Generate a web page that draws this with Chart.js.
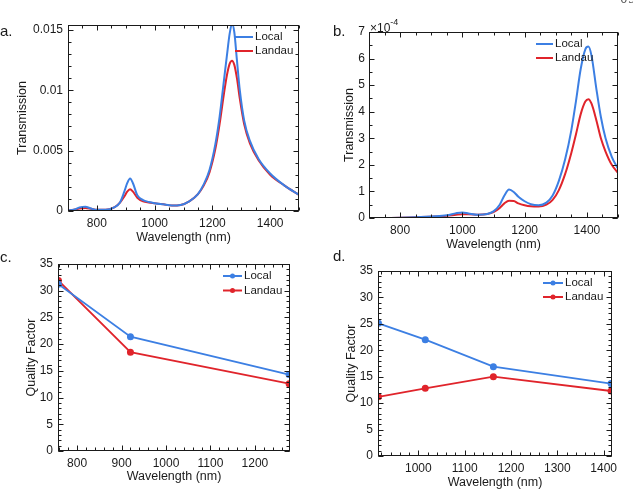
<!DOCTYPE html>
<html>
<head>
<meta charset="utf-8">
<script src="https://cdn.jsdelivr.net/npm/chart.js@4.4.0/dist/chart.umd.min.js"></script>
<style>
html, body { margin: 0; padding: 0; background: #fff; }
body { width: 633px; height: 489px; position: relative; overflow: hidden;
       font-family: "Liberation Sans", Arial, sans-serif; color: #1a1a1a; }
canvas { position: absolute; }
.tag { position: absolute; font-size: 15px; line-height: 1; }
.mult { position: absolute; font-size: 12px; line-height: 1; }
.mult sup { font-size: 9px; position: relative; top: -2px; }
.page { position: absolute; font-family: "DejaVu Serif", serif; font-size: 12px; color: #555; }
</style>
</head>
<body>
<canvas id="chartA" width="316" height="246" style="left:0;top:0"></canvas>
<canvas id="chartB" width="317" height="256" style="left:316px;top:0"></canvas>
<canvas id="chartC" width="316" height="243" style="left:0;top:246px"></canvas>
<canvas id="chartD" width="317" height="248" style="left:316px;top:246px"></canvas>

<div class="tag" style="left:0;top:23px">a.</div>
<div class="tag" style="left:333px;top:23px">b.</div>
<div class="tag" style="left:0;top:249px">c.</div>
<div class="tag" style="left:333px;top:248px">d.</div>
<div class="mult" style="left:370px;top:20px">&times;10<sup>-4</sup></div>
<div class="page" style="left:620px;top:-8px">09</div>

<script>
// ---------------- data ----------------
// a. transmission, first structure
const wlA = [700, 720, 740, 760, 780, 800, 830, 860, 880, 895, 905, 915, 925, 940, 960, 980, 1000, 1030, 1060, 1090,
  1120, 1150, 1170, 1190, 1210, 1225, 1240, 1250, 1260, 1268, 1276, 1285, 1295, 1310, 1330, 1360, 1400, 1450, 1500];
const localA = [0.00005, 0.0001, 0.0003, 0.00036, 0.0002, 0.0001, 0.0001, 0.0003, 0.0007, 0.0016, 0.0023, 0.0027, 0.0023,
  0.0013, 0.0009, 0.00075, 0.00065, 0.00055, 0.00045, 0.0005, 0.0008, 0.0014, 0.0022, 0.0034, 0.0055, 0.0078, 0.0108,
  0.0128, 0.0147, 0.0155, 0.0148, 0.0125, 0.0100, 0.0075, 0.0058, 0.0043, 0.0031, 0.0021, 0.00135];
const landauA = [0.00005, 0.0001, 0.0002, 0.00025, 0.00018, 0.0001, 0.0001, 0.0003, 0.0007, 0.0012, 0.0016, 0.0018, 0.0016,
  0.0011, 0.0008, 0.0007, 0.00064, 0.00055, 0.00045, 0.0005, 0.0008, 0.0014, 0.0021, 0.0032, 0.0051, 0.0072, 0.0097,
  0.0112, 0.0122, 0.01245, 0.0121, 0.0110, 0.0093, 0.0072, 0.0056, 0.0042, 0.0030, 0.0021, 0.00133];

// b. transmission, second structure (units of 1e-4)
const wlB = [700, 750, 800, 850, 900, 950, 980, 1000, 1020, 1050, 1080, 1100, 1120, 1135, 1150, 1165, 1180, 1200, 1220,
  1245, 1270, 1290, 1310, 1330, 1350, 1365, 1380, 1395, 1405, 1415, 1430, 1445, 1460, 1480, 1500];
const localB = [0, 0, 0.01, 0.03, 0.06, 0.1, 0.18, 0.21, 0.17, 0.12, 0.15, 0.25, 0.5, 0.85, 1.07, 0.98, 0.8, 0.63, 0.52,
  0.48, 0.58, 0.85, 1.4, 2.2, 3.3, 4.4, 5.6, 6.35, 6.45, 6.1, 4.9, 3.8, 3.0, 2.3, 1.85];
const landauB = [0, 0, 0.01, 0.03, 0.05, 0.08, 0.12, 0.14, 0.14, 0.12, 0.15, 0.22, 0.38, 0.55, 0.65, 0.64, 0.55, 0.48, 0.44,
  0.43, 0.5, 0.68, 1.05, 1.65, 2.45, 3.15, 3.9, 4.38, 4.47, 4.3, 3.7, 3.0, 2.5, 2.0, 1.7];

// c. quality factor vs resonance wavelength
const wlC = [758, 920, 1277];
const localC = [31.2, 21.4, 14.3];
const landauC = [31.9, 18.5, 12.6];

// d. quality factor vs resonance wavelength
const wlD = [914, 1015, 1162, 1416];
const localD = [25.1, 22.0, 16.9, 13.7];
const landauD = [11.2, 12.8, 15.0, 12.3];

// tick labels
const xTicksAB = [800, 1000, 1200, 1400];
const yTicksA = [0, 0.005, 0.01, 0.015];
const yTicksB = [0, 1, 2, 3, 4, 5, 6, 7];
const xTicksC = [800, 900, 1000, 1100, 1200];
const xTicksD = [1000, 1100, 1200, 1300, 1400];
const yTicksQ = [0, 5, 10, 15, 20, 25, 30, 35];
const seriesNames = ['Local', 'Landau'];

const BLUE = '#3c7fe3';
const RED = '#e0242b';
const INK = '#1a1a1a';

Chart.defaults.font.family = '"Liberation Sans", Arial, sans-serif';
Chart.defaults.color = INK;

// box round the plot + inward major/minor ticks on all four sides (matlab look)
const framePlugin = {
  id: 'frame',
  afterDatasetsDraw(chart, args, o) {
    const { ctx, chartArea: ca, scales: { x, y } } = chart;
    const L = Math.round(ca.left) + 0.5, R = Math.round(ca.right) - 0.5;
    const T = Math.round(ca.top) + 0.5, B = Math.round(ca.bottom) - 0.5;
    ctx.save();
    ctx.strokeStyle = INK;
    ctx.lineWidth = 1;
    ctx.beginPath();
    const vTick = (v, len) => {
      const px = Math.round(x.getPixelForValue(v)) + 0.5;
      ctx.moveTo(px, B); ctx.lineTo(px, B - len);
      ctx.moveTo(px, T); ctx.lineTo(px, T + len);
    };
    const hTick = (v, len) => {
      const py = Math.round(y.getPixelForValue(v)) + 0.5;
      ctx.moveTo(L, py); ctx.lineTo(L + len, py);
      ctx.moveTo(R, py); ctx.lineTo(R - len, py);
    };
    for (let v = Math.ceil(x.min / o.xMinor) * o.xMinor; v <= x.max; v += o.xMinor) vTick(v, 3);
    for (let v = Math.ceil(y.min / o.yMinor - 1e-9) * o.yMinor; v <= y.max + 1e-12; v += o.yMinor) hTick(v, 3);
    x.ticks.forEach(t => vTick(t.value, 5));
    y.ticks.forEach(t => hTick(t.value, 5));
    ctx.stroke();
    ctx.strokeRect(L, T, R - L, B - T);
    ctx.restore();
  }
};

// legend drawn inside the axes, top right, no frame
const inLegendPlugin = {
  id: 'inLegend',
  afterDraw(chart, args, o) {
    const ctx = chart.ctx;
    ctx.save();
    ctx.font = '11.5px "Liberation Sans", Arial, sans-serif';
    ctx.textBaseline = 'middle';
    chart.data.datasets.forEach((ds, i) => {
      const yy = o.y + i * o.gap;
      ctx.strokeStyle = ds.borderColor;
      ctx.lineWidth = 2;
      ctx.beginPath();
      ctx.moveTo(o.x, yy); ctx.lineTo(o.x + o.len, yy);
      ctx.stroke();
      if (o.marker) {
        ctx.fillStyle = ds.borderColor;
        ctx.beginPath();
        ctx.arc(o.x + o.len / 2, yy, 2.5, 0, Math.PI * 2);
        ctx.fill();
      }
      ctx.fillStyle = INK;
      ctx.fillText(ds.label, o.x + o.len + 2, yy);
    });
    ctx.restore();
  }
};

function makeChart(id, p) {
  const datasets = p.series.map((s, k) => ({
    label: seriesNames[k],
    data: s.y.map((v, i) => ({ x: s.x[i], y: v })),
    borderColor: s.color,
    backgroundColor: s.color,
    borderWidth: p.markers ? 1.8 : 2,
    showLine: true,
    pointRadius: p.markers ? 2.6 : 0,
    pointHoverRadius: 0,
    cubicInterpolationMode: p.markers ? 'default' : 'monotone',
    tension: 0
  }));
  return new Chart(document.getElementById(id), {
    type: 'scatter',
    data: { datasets },
    plugins: [framePlugin, inLegendPlugin],
    options: {
      responsive: false,
      animation: false,
      devicePixelRatio: 1,
      events: [],
      layout: { padding: { top: p.area.top, right: p.area.right, left: 0, bottom: 0 } },
      plugins: {
        legend: { display: false },
        tooltip: { enabled: false },
        frame: { xMinor: p.xMinor, yMinor: p.yMinor },
        inLegend: p.legend
      },
      scales: {
        x: {
          type: 'linear', min: p.xMin, max: p.xMax,
          afterBuildTicks: s => { s.ticks = p.xTicks.map(v => ({ value: v })); },
          afterFit: s => { s.height = p.area.xh; },
          grid: { display: false, drawTicks: false },
          border: { display: false },
          ticks: { padding: 5, maxRotation: 0, autoSkip: false, font: { size: 12 }, callback: v => String(v) },
          title: { display: true, text: 'Wavelength (nm)', font: { size: 12.5 }, padding: { top: 0, bottom: p.area.xtb } }
        },
        y: {
          type: 'linear', min: p.yMin, max: p.yMax,
          afterBuildTicks: s => { s.ticks = p.yTicks.map(v => ({ value: v })); },
          afterFit: s => { s.width = p.area.left; },
          grid: { display: false, drawTicks: false },
          border: { display: false },
          ticks: { padding: p.area.ytp, autoSkip: false, font: { size: 12 }, callback: v => String(v) },
          title: { display: true, text: p.yTitle, font: { size: 12.5 }, padding: { top: p.area.ytt, bottom: 0 } }
        }
      }
    }
  });
}

makeChart('chartA', {
  series: [{ x: wlA, y: localA, color: BLUE }, { x: wlA, y: landauA, color: RED }],
  xMin: 700, xMax: 1500, yMin: 0, yMax: 0.0154,
  xTicks: xTicksAB, yTicks: yTicksA, xMinor: 50, yMinor: 0.001,
  yTitle: 'Transmission',
  area: { left: 68, top: 25, right: 17, xh: 35, xtb: 1, ytp: 5, ytt: 15 },
  legend: { x: 235, y: 37, gap: 14, len: 18, marker: false }
});

makeChart('chartB', {
  series: [{ x: wlB, y: localB, color: BLUE }, { x: wlB, y: landauB, color: RED }],
  xMin: 700, xMax: 1500, yMin: 0, yMax: 7,
  xTicks: xTicksAB, yTicks: yTicksB, xMinor: 50, yMinor: 0.5,
  yTitle: 'Transmission',
  area: { left: 53, top: 32, right: 15, xh: 38, xtb: 3.5, ytp: 4, ytt: 26.5 },
  legend: { x: 220, y: 44, gap: 14, len: 17, marker: false }
});

makeChart('chartC', {
  series: [{ x: wlC, y: localC, color: BLUE }, { x: wlC, y: landauC, color: RED }],
  xMin: 757, xMax: 1279, yMin: 0, yMax: 35,
  xTicks: xTicksC, yTicks: yTicksQ, xMinor: 20, yMinor: 1,
  yTitle: 'Quality Factor', markers: true,
  area: { left: 58, top: 18, right: 26, xh: 38, xtb: 4.5, ytp: 5, ytt: 24 },
  legend: { x: 223, y: 30, gap: 14.5, len: 19, marker: true }
});

makeChart('chartD', {
  series: [{ x: wlD, y: localD, color: BLUE }, { x: wlD, y: landauD, color: RED }],
  xMin: 913, xMax: 1418, yMin: 0, yMax: 35,
  xTicks: xTicksD, yTicks: yTicksQ, xMinor: 20, yMinor: 1,
  yTitle: 'Quality Factor', markers: true,
  area: { left: 62, top: 25, right: 21, xh: 38, xtb: 3.5, ytp: 5, ytt: 28 },
  legend: { x: 227, y: 37, gap: 14, len: 20, marker: true }
});
</script>
</body>
</html>
